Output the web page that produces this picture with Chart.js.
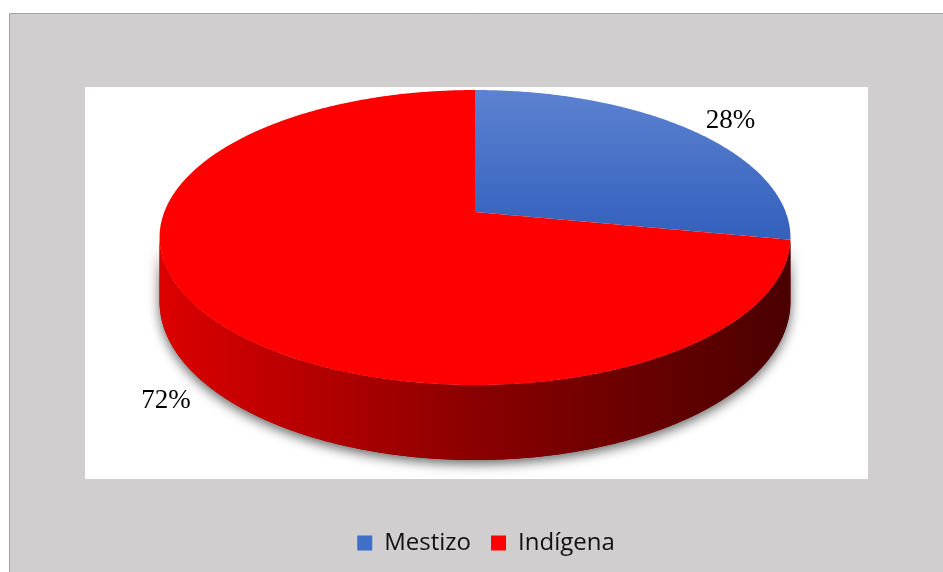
<!DOCTYPE html>
<html><head><meta charset="utf-8">
<script src="https://cdn.jsdelivr.net/npm/chart.js@4/dist/chart.umd.min.js"></script>
<style>html,body{margin:0;padding:0;background:#fff;}canvas{display:block;}</style>
</head><body>
<canvas id="c" width="943" height="572"></canvas>
<script>
// ---- data ----
const categories = ['Mestizo', 'Indígena'];
const values = [28, 72];
const valueLabels = ['28%', '72%'];

// ---- styling ----
const topColors = ['#416ec6', '#ff0000'];
const sideStops = [
  ['#2f559a', '#243f75', '#182b52'],
  ['#dc0000', '#8a0000', '#4a0000']
];
const labelRadius = [1.21, 1.13];
const labelDepth = [0.12, 1];
const view = {cx: 475, cy: 212, B: 310.7, A: 143.1, p: 0.173, H: 62};

function proj(a, r, d) {
  const x = r * Math.cos(a), yf = -r * Math.sin(a);
  const den = 1 + view.p * yf;
  return [view.cx + view.B * x / den, view.cy - view.A * yf / den + d * view.H / den];
}

function addArc(ctx, s, e, r, d, first) {
  const n = Math.max(2, Math.ceil(Math.abs(e - s) / 0.01));
  for (let k = 0; k <= n; k++) {
    const a = s + (e - s) * k / n;
    const pt = proj(a, r, d);
    if (first && k === 0) ctx.moveTo(pt[0], pt[1]); else ctx.lineTo(pt[0], pt[1]);
  }
}

const pie3d = {
  id: 'pie3d',
  beforeDraw(chart) {
    const ctx = chart.ctx;
    ctx.save();
    ctx.fillStyle = '#ffffff';
    ctx.fillRect(0, 0, 943, 572);
    ctx.fillStyle = '#d0cece';
    ctx.fillRect(9, 13, 934, 559);
    ctx.strokeStyle = '#a3a3a3';
    ctx.lineWidth = 1;
    ctx.beginPath();
    ctx.moveTo(9.5, 572); ctx.lineTo(9.5, 13.5); ctx.lineTo(943, 13.5);
    ctx.stroke();
    ctx.fillStyle = '#ffffff';
    ctx.fillRect(85, 87, 783, 392);
    ctx.restore();
  },
  beforeDatasetsDraw(chart) {
    const ctx = chart.ctx;
    const meta = chart.getDatasetMeta(0);
    const a1 = Math.asin(view.p), a2 = Math.PI - a1;
    ctx.save();
    // shadow + base of the side wall
    ctx.beginPath();
    addArc(ctx, a1, a2, 1, 0, true);
    addArc(ctx, a2, a1, 1, 1, false);
    ctx.closePath();
    ctx.shadowColor = 'rgba(0,0,0,0.6)';
    ctx.shadowBlur = 12;
    ctx.shadowOffsetY = 4;
    ctx.fillStyle = '#7a0000';
    ctx.fill();
    ctx.shadowColor = 'transparent';
    ctx.shadowBlur = 0; ctx.shadowOffsetY = 0;
    // side walls per slice
    const xL = view.cx - view.B * 1.0155, xR = view.cx + view.B * 1.0155;
    meta.data.forEach((el, i) => {
      for (let shift = -2; shift <= 2; shift++) {
        const s = Math.max(el.startAngle + shift * 2 * Math.PI, a1);
        const e = Math.min(el.endAngle + shift * 2 * Math.PI, a2);
        if (e <= s) continue;
        const g = ctx.createLinearGradient(xL, 0, xR, 0);
        g.addColorStop(0, sideStops[i][0]);
        g.addColorStop(0.5, sideStops[i][1]);
        g.addColorStop(1, sideStops[i][2]);
        ctx.beginPath();
        addArc(ctx, s, e, 1, 0, true);
        addArc(ctx, e, s, 1, 1, false);
        ctx.closePath();
        ctx.fillStyle = g;
        ctx.fill();
      }
    });
    // top faces
    meta.data.forEach((el, i) => {
      ctx.beginPath();
      ctx.moveTo(view.cx, view.cy);
      addArc(ctx, el.startAngle, el.endAngle, 1, 0, false);
      ctx.closePath();
      if (i === 0) {
        const g = ctx.createLinearGradient(0, 90, 0, 240);
        g.addColorStop(0, '#5c82d0');
        g.addColorStop(1, '#3360bd');
        ctx.fillStyle = g;
      } else {
        ctx.fillStyle = topColors[i];
      }
      ctx.fill();
    });
    ctx.restore();
    return false;
  },
  afterDraw(chart) {
    const ctx = chart.ctx;
    const meta = chart.getDatasetMeta(0);
    ctx.save();
    ctx.fillStyle = '#000';
    ctx.font = '27px "Liberation Serif", "Times New Roman", serif';
    ctx.textAlign = 'center';
    ctx.textBaseline = 'middle';
    meta.data.forEach((el, i) => {
      const mid = (el.startAngle + el.endAngle) / 2;
      const pt = proj(mid, labelRadius[i], labelDepth[i]);
      ctx.fillText(valueLabels[i], pt[0], pt[1]);
    });
    ctx.restore();
  }
};

new Chart(document.getElementById('c'), {
  type: 'pie',
  data: {
    labels: categories,
    datasets: [{
      data: values,
      backgroundColor: topColors,
      borderWidth: 0
    }]
  },
  options: {
    responsive: false,
    animation: false,
    layout: {padding: {left: 29, right: 0, top: 0, bottom: 7}},
    plugins: {
      tooltip: {enabled: false},
      legend: {
        position: 'bottom',
        labels: {
          boxWidth: 15, boxHeight: 15, padding: 20, color: '#111',
          font: {family: '"Open Sans", sans-serif', size: 24}
        }
      }
    }
  },
  plugins: [pie3d]
});
</script>
</body></html>
